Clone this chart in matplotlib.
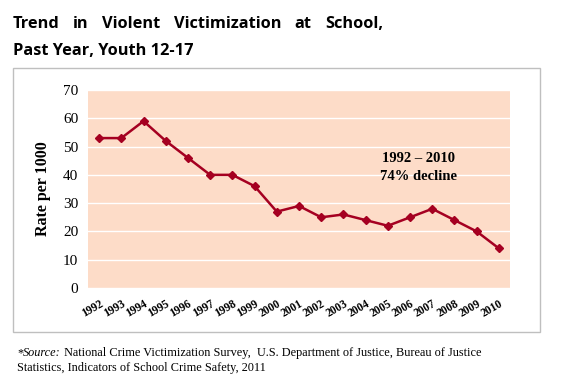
import matplotlib
matplotlib.use("Agg")
import matplotlib.pyplot as plt
from matplotlib.patches import Rectangle

years = ["1992", "1993", "1994", "1995", "1996", "1997", "1998", "1999", "2000", "2001",
         "2002", "2003", "2004", "2005", "2006", "2007", "2008", "2009", "2010"]
rates = [53, 53, 59, 52, 46, 40, 40, 36, 27, 29, 25, 26, 24, 22, 25, 28, 24, 20, 14]
yticks = [0, 10, 20, 30, 40, 50, 60, 70]

W, H = 576, 387
fig = plt.figure(figsize=(W / 100, H / 100), dpi=100)

# outer box
fig.patches.append(Rectangle((13 / W, 1 - 332 / H), (540 - 13) / W, (332 - 68) / H,
                             transform=fig.transFigure, fill=False, edgecolor="#bfbfbf", lw=1.0))

ax = fig.add_axes([88 / W, 1 - 288 / H, (510 - 88) / W, (288 - 90) / H])
ax.set_facecolor("#fddcc8")
x = list(range(len(years)))
ax.plot(x, rates, color="#a50021", lw=1.8, marker="D", markersize=4.5, zorder=3)
ax.set_xlim(-0.5, len(years) - 0.5)
ax.set_ylim(0, 70)
ax.set_yticks(yticks)
ax.set_yticklabels([str(v) for v in yticks], fontfamily="Liberation Serif", fontsize=11)
ax.yaxis.grid(True, color="white", lw=1.0)
ax.set_axisbelow(True)
ax.set_xticks(x)
ax.set_xticklabels(years, rotation=30, fontfamily="Liberation Serif", fontweight="bold",
                   fontsize=8.3, ha="right", rotation_mode="anchor")
ax.tick_params(axis="both", length=0)
ax.tick_params(axis="y", pad=7)
ax.tick_params(axis="x", pad=7)
for s in ax.spines.values():
    s.set_visible(False)
ax.set_ylabel("Rate per 1000", fontfamily="Liberation Serif", fontweight="bold", fontsize=11.5, labelpad=9)

ax.text(418 / W, 1 - 158 / H, "1992 – 2010", transform=fig.transFigure, ha="center", va="center",
        fontfamily="Liberation Serif", fontweight="bold", fontsize=10.5)
ax.text(418 / W, 1 - 177 / H, "74% decline", transform=fig.transFigure, ha="center", va="center",
        fontfamily="Liberation Serif", fontweight="bold", fontsize=10.5)

# title, justified first line
fig.canvas.draw()
r = fig.canvas.get_renderer()
words = ["Trend", "in", "Violent", "Victimization", "at", "School,"]
left, right = 13, 383
texts = [fig.text(0, 0, w, fontfamily="Open Sans", fontweight="bold", fontsize=11.8) for w in words]
widths = [t.get_window_extent(r).width for t in texts]
gap = (right - left - sum(widths)) / (len(words) - 1)
pos = left
for t, w in zip(texts, widths):
    t.set_position((pos / W, 1 - 28 / H))
    pos += w + gap
fig.text(left / W, 1 - 55 / H, "Past Year, Youth 12-17", fontfamily="Open Sans", fontweight="bold", fontsize=11.8)

# source note, pieces placed by measured width
fs = 8.8
y1 = 1 - 356 / H
pieces = [("*", "normal"), ("Source:", "italic"),
          (" National Crime Victimization Survey,  U.S. Department of Justice, Bureau of Justice", "normal")]
pos = 17
for txt, style in pieces:
    t = fig.text(pos / W, y1, txt, fontfamily="Liberation Serif", fontstyle=style, fontsize=fs)
    pos += t.get_window_extent(r).width
fig.text(17 / W, 1 - 371 / H, "Statistics, Indicators of School Crime Safety, 2011",
         fontfamily="Liberation Serif", fontsize=fs)

fig.savefig("out.png", dpi=100, facecolor="white")
